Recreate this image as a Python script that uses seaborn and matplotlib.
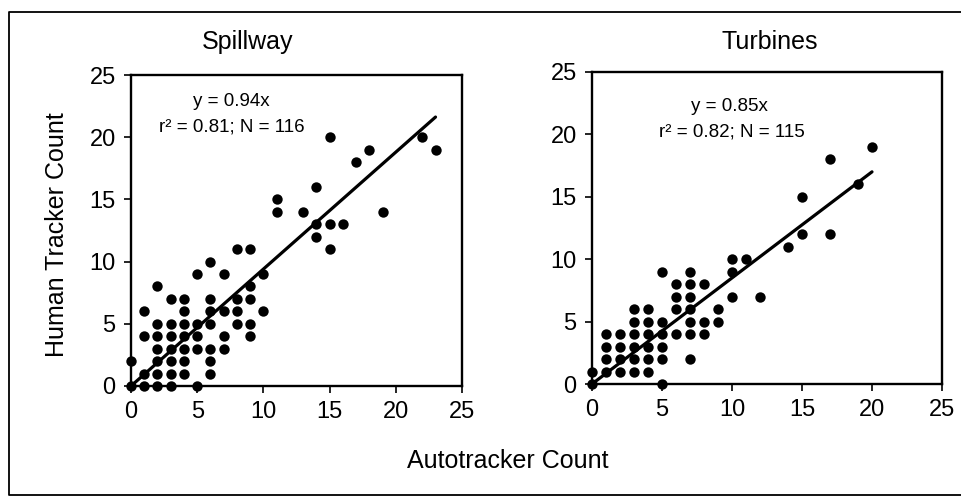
import matplotlib
matplotlib.use("Agg")
import matplotlib.pyplot as plt
import seaborn as sns
import pandas as pd
import numpy as np
from matplotlib.lines import Line2D

sns.set_style("white")
plt.rcParams['font.family'] = ['Liberation Sans', 'DejaVu Sans']
plt.rcParams['text.color'] = 'black'
plt.rcParams['xtick.color'] = 'black'
plt.rcParams['ytick.color'] = 'black'

# Spillway data (autotracker x, human tracker y)
spill_x = [0, 0, 1, 2, 3, 5, 1, 1, 1,
           2, 2, 2, 2, 2, 2,
           3, 3, 3, 3, 3, 3,
           4, 4, 4, 4, 4, 4, 4,
           5, 5, 5, 5,
           6, 6, 6, 6, 6, 6, 6,
           7, 7, 7, 7,
           8, 8, 8, 8,
           9, 9, 9, 9, 9,
           10, 10, 11, 11, 13, 14, 14, 14,
           15, 15, 15, 16, 17, 18, 19, 22, 23]
spill_y = [0, 2, 0, 0, 0, 0, 1, 4, 6,
           1, 2, 3, 4, 5, 8,
           1, 2, 3, 4, 5, 7,
           1, 2, 3, 4, 5, 6, 7,
           3, 4, 5, 9,
           1, 2, 3, 5, 6, 7, 10,
           3, 4, 6, 9,
           5, 6, 7, 11,
           4, 5, 7, 8, 11,
           6, 9, 14, 15, 14, 12, 13, 16,
           11, 13, 20, 13, 18, 19, 14, 20, 19]
spill_slope = 0.94
spill_xmax = 23

# Turbines data
turb_x = [0, 0,
          1, 1, 1, 1,
          2, 2, 2, 2,
          3, 3, 3, 3, 3, 3,
          4, 4, 4, 4, 4, 4,
          5, 5, 5, 5, 5, 5,
          6, 6, 6, 6,
          7, 7, 7, 7, 7, 7, 7,
          8, 8, 8,
          9, 9,
          10, 10, 10, 11, 12, 14, 15, 15, 17, 17, 19, 20]
turb_y = [0, 1,
          1, 2, 3, 4,
          1, 2, 3, 4,
          1, 2, 3, 4, 5, 6,
          1, 2, 3, 4, 5, 6,
          0, 2, 3, 4, 5, 9,
          4, 6, 7, 8,
          2, 4, 5, 6, 7, 8, 9,
          4, 5, 8,
          5, 6,
          7, 9, 10, 10, 7, 11, 12, 15, 12, 18, 16, 19]
turb_slope = 0.85
turb_xmax = 20

titles = ["Spillway", "Turbines"]
eq_texts = ["y = 0.94x", "y = 0.85x"]
stat_texts = ["r² = 0.81; N = 116", "r² = 0.82; N = 115"]
ticks = [0, 5, 10, 15, 20, 25]

W, H = 961, 498
fig = plt.figure(figsize=(W / 100, H / 100), dpi=100)

def fx(px):
    return px / W

def fy(py):
    return 1 - py / H

ax1 = fig.add_axes([fx(131), fy(386), fx(462 - 131), (386 - 75) / H])
ax2 = fig.add_axes([fx(592), fy(384), fx(942 - 592), (384 - 72) / H])

datasets = [(spill_x, spill_y, spill_slope, spill_xmax),
            (turb_x, turb_y, turb_slope, turb_xmax)]

for ax, (xs, ys, slope, xmax) in zip([ax1, ax2], datasets):
    df = pd.DataFrame({"x": xs, "y": ys})
    line_df = pd.DataFrame({"x": [0, xmax], "y": [0, slope * xmax]})
    sns.lineplot(data=line_df, x="x", y="y", ax=ax, color="black", linewidth=2.3)
    sns.scatterplot(data=df, x="x", y="y", ax=ax, color="black", s=56,
                    edgecolor="black", linewidth=0, zorder=3, clip_on=False)
    ax.set_xlim(0, 25)
    ax.set_ylim(0, 25)
    ax.set_xticks(ticks)
    ax.set_yticks(ticks)
    ax.set_xlabel("")
    ax.set_ylabel("")
    ax.tick_params(axis="both", direction="out", length=5, width=1.2,
                   labelsize=17, colors="black", pad=6, left=True, bottom=True)
    for sp in ax.spines.values():
        sp.set_linewidth(1.7)
        sp.set_color("black")
    ax.grid(False)

ax1.text(7.6, 22.9, eq_texts[0], ha="center", va="center", fontsize=13.5)
ax1.text(7.6, 20.8, stat_texts[0], ha="center", va="center", fontsize=13.5)
ax2.text(9.8, 22.2, eq_texts[1], ha="center", va="center", fontsize=13.5)
ax2.text(10.0, 20.2, stat_texts[1], ha="center", va="center", fontsize=13.5)

fig.text(fx(248), fy(42), titles[0], ha="center", va="center", fontsize=18)
fig.text(fx(770), fy(42), titles[1], ha="center", va="center", fontsize=18)
fig.text(fx(57), fy(235), "Human Tracker Count", ha="center", va="center",
         rotation=90, fontsize=18)
fig.text(fx(508), fy(461), "Autotracker Count", ha="center", va="center",
         fontsize=18)

# outer frame (open on the right, as cropped)
frame_x = [fx(970), fx(9), fx(9), fx(970)]
frame_y = [fy(12), fy(12), fy(495), fy(495)]
fig.add_artist(Line2D(frame_x, frame_y, transform=fig.transFigure,
                      color="black", linewidth=1.3))

fig.savefig("out.png", dpi=100, facecolor="white")
